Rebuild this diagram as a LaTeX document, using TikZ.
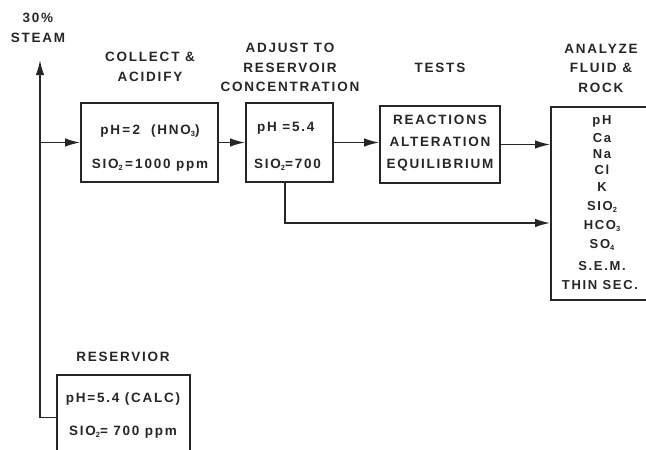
\documentclass[tikz,border=0pt]{standalone}
\usepackage{fontspec}
\setmainfont{Liberation Sans}[UprightFont=* Bold, BoldFont=* Bold, LetterSpace=13]
\usetikzlibrary{arrows.meta,positioning}
\newcommand\sbs[1]{\raisebox{-0.35ex}{\fontsize{7.5}{7.5}\selectfont #1}}
\definecolor{ink}{HTML}{262626}
\begin{document}
\begin{tikzpicture}[x=1pt,y=-1pt,
  lbl/.style={font=\fontsize{13.5}{19.5}\selectfont, text=ink, align=center, inner sep=0pt},
  lst/.style={font=\fontsize{13}{16}\selectfont, text=ink, align=center, inner sep=0pt},
  boxx/.style={draw=ink, line width=1.8pt, rectangle, inner sep=0pt},
  conn/.style={draw=ink, line width=1.6pt},
  arr/.style={conn, -{Latex[length=15pt,width=8.5pt]}}]
\useasboundingbox (0,0) rectangle (646,450);
\clip (0,0) rectangle (646,450);
% boxes
\node[boxx, minimum width=137pt, minimum height=79pt] (b1) at (149.5,142.5) {};
\node[boxx, minimum width=87pt, minimum height=79pt] (b2) at (289.5,142.5) {};
\node[boxx, minimum width=120pt, minimum height=77pt] (tests) at (440,144.5) {};
\node[boxx, minimum width=110pt, minimum height=193pt] (an) at (606,203.5) {};
\node[boxx, minimum width=133pt, minimum height=85pt] (res) at (123.5,417.5) {};
% titles
\node[lbl] (steam) at (38,28) {30\%\\STEAM};
\node[lbl] (t1) at (150,67) {COLLECT \&\\ACIDIFY};
\node[lbl] (t2) at (290,67.5) {ADJUST TO\\RESERVOIR\\CONCENTRATION};
\node[lbl] (t3) at (440,68) {TESTS};
\node[lbl] (t4) at (601,68) {ANALYZE\\FLUID \&\\ROCK};
\node[lbl] (t5) at (123,357) {RESERVIOR};
% box texts
\node[lbl] (b1a) at (150,131) {pH\,=\,2 \ (HNO\sbs{3})};
\node[lbl] (b1b) at (150,165) {SIO\sbs{2}\,=\,1000 ppm};
\node[lbl, anchor=west] (b2a) at (257,128) {pH =5.4};
\node[lbl, anchor=west] (b2b) at (254,165) {SIO\sbs{2}=700};
\node[lbl, font=\fontsize{13.5}{22}\selectfont] (ta) at (440,143.5) {REACTIONS\\ALTERATION\\EQUILIBRIUM};
\node[lst] (a1) at (602,121) {pH};
\node[lst] (a2) at (602,138) {Ca};
\node[lst] (a3) at (602,154) {Na};
\node[lst] (a4) at (602,170) {Cl};
\node[lst] (a5) at (602,187) {K};
\node[lst] (a6) at (602,207) {SIO\sbs{2}};
\node[lst] (a7) at (602,226) {HCO\sbs{3}};
\node[lst] (a8) at (602,245) {SO\sbs{4}};
\node[lst] (a9) at (602,266) {S.E.M.};
\node[lst] (a10) at (600,285) {THIN SEC.};
\node[lbl] (ra) at (123,399) {pH=5.4 (CALC)};
\node[lbl] (rb) at (123,432) {SIO\sbs{2}= 700 ppm};
% connectors
\coordinate (corner) at (40,417.5);
\coordinate (tip) at (40,60);
\coordinate (branch) at (40,142.5);
\coordinate (b2bot) at (285,182);
\draw[arr] (res.west) -- (corner) -- (tip);
\draw[arr] (branch) -- (b1.west);
\draw[arr] (b1.east) -- (b2.west);
\draw[arr] (b2.east) -- (b2.east -| tests.west);
\draw[arr] (tests.east) -- (tests.east -| an.west);
\draw[arr] (b2bot) |- ([yshift=-19.5pt]an.west);
\end{tikzpicture}
\end{document}
